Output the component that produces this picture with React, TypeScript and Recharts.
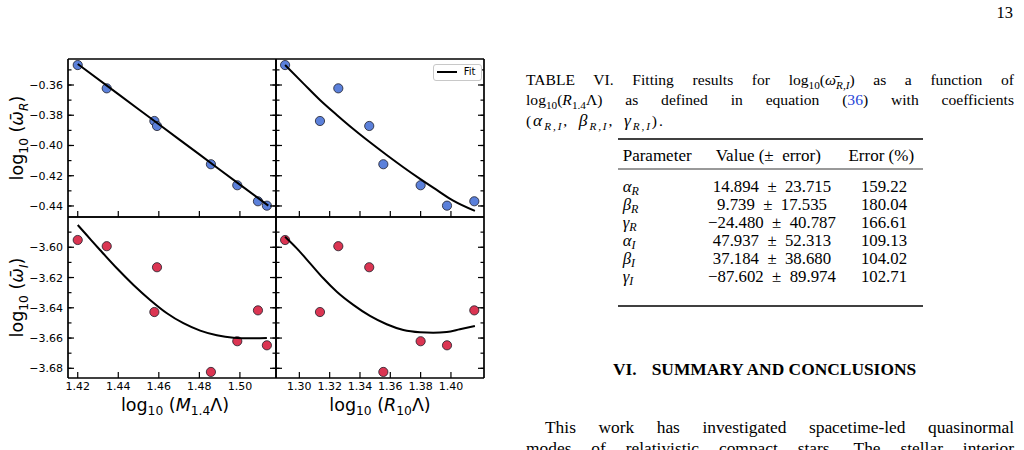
import React from "react";
import { Label, Legend, Scatter, ScatterChart, XAxis, YAxis } from "recharts";

// Eight stellar models: log10(M_1.4 Λ), log10(R_10 Λ) and the two parts of log10(ω̄)
const massLambda = [1.42, 1.4343, 1.4578, 1.4591, 1.4857, 1.4987, 1.5089, 1.5133];
const radiusLambda = [1.2906, 1.3257, 1.3136, 1.3461, 1.3554, 1.38, 1.4154, 1.3974];
const omegaReal = [-0.3468, -0.3622, -0.3838, -0.3871, -0.4124, -0.4263, -0.4369, -0.4398];
const omegaImag = [-3.5952, -3.5993, -3.6428, -3.6132, -3.6824, -3.6621, -3.6417, -3.6648];

// Quadratic fit curves, sampled along each curve
const fitMassRealX = [1.42, 1.44, 1.46, 1.48, 1.5, 1.514];
const fitMassRealY = [-0.3461, -0.366, -0.386, -0.4059, -0.4259, -0.4398];
const fitRadiusRealX = [1.2906, 1.3026, 1.3136, 1.3247, 1.3356, 1.3466, 1.3576, 1.3686, 1.3796, 1.3906, 1.4015, 1.4158];
const fitRadiusRealY = [-0.3468, -0.3589, -0.3699, -0.3798, -0.3891, -0.3979, -0.4063, -0.4144, -0.4221, -0.4294, -0.4365, -0.4433];
const fitMassImagX = [1.42, 1.4244, 1.431, 1.4393, 1.4475, 1.4557, 1.464, 1.4721, 1.4804, 1.4886, 1.4968, 1.5051, 1.5133];
const fitMassImagY = [-3.5853, -3.5919, -3.6018, -3.6139, -3.6249, -3.6348, -3.6436, -3.6502, -3.6551, -3.6582, -3.6598, -3.6602, -3.66];
const fitRadiusImagX = [1.2906, 1.2983, 1.3071, 1.3158, 1.3247, 1.3356, 1.3466, 1.3576, 1.3686, 1.3796, 1.3883, 1.3972, 1.4059, 1.4158];
const fitRadiusImagY = [-3.593, -3.6007, -3.6106, -3.6205, -3.6294, -3.6381, -3.6454, -3.6509, -3.6547, -3.6562, -3.6565, -3.656, -3.6542, -3.652];

// Axis ticks
const massTicks = [1.42, 1.44, 1.46, 1.48, 1.5];
const massMinorTicks = [1.42, 1.43, 1.44, 1.45, 1.46, 1.47, 1.48, 1.49, 1.5, 1.51];
const radiusTicks = [1.3, 1.32, 1.34, 1.36, 1.38, 1.4];
const radiusMinorTicks = [1.29, 1.3, 1.31, 1.32, 1.33, 1.34, 1.35, 1.36, 1.37, 1.38, 1.39, 1.4, 1.41];
const realTicks = [-0.44, -0.42, -0.4, -0.38, -0.36];
const realMinorTicks = [-0.44, -0.43, -0.42, -0.41, -0.4, -0.39, -0.38, -0.37, -0.36, -0.35];
const imagTicks = [-3.68, -3.66, -3.64, -3.62, -3.6];
const imagMinorTicks = [-3.68, -3.67, -3.66, -3.65, -3.64, -3.63, -3.62, -3.61, -3.6, -3.59];

// Table VI
const paramSymbols = ["α", "β", "γ", "α", "β", "γ"];
const paramParts = ["R", "R", "R", "I", "I", "I"];
const paramValues = [14.894, 9.739, -24.48, 47.937, 37.184, -87.602];
const paramErrors = [23.715, 17.535, 40.787, 52.313, 38.68, 89.974];
const errorPercents = [159.22, 180.04, 166.61, 109.13, 104.02, 102.71];

const BLUE = "#5b80da";
const RED = "#db3552";
const sans = "DejaVu Sans";
const serif = '"Liberation Serif", "Times New Roman", serif';

// axes take no room of their own; the plot box comes from the chart margins
const THIN = 0.001;
const spine = { stroke: "#000", strokeWidth: 1.7 };

const toXY = (xs: number[], ys: number[]) => xs.map((x, i) => ({ x, y: ys[i] }));
const fmt = (v: number) => v.toFixed(2).replace("-", "\u2212");
const signed = (v: number) => v.toFixed(3).replace("-", "\u2212");

type Side = "bottom" | "top" | "left" | "right";

// inward tick mark drawn at the axis line, with an optional value label outside
function Tick({ x, y, payload, side, len, label }: any) {
  const s = side as Side;
  const dx = s === "left" ? len : s === "right" ? -len : 0;
  const dy = s === "bottom" ? -len : s === "top" ? len : 0;
  return (
    <g>
      <line x1={x} y1={y} x2={x + dx} y2={y + dy} stroke="#000" strokeWidth={1.2} />
      {label && s === "bottom" && (
        <text x={x} y={y + 12.5} textAnchor="middle" fontFamily={sans} fontSize={11} fill="#000">{fmt(payload.value)}</text>
      )}
      {label && s === "left" && (
        <text x={x - 5} y={y + 4} textAnchor="end" fontFamily={sans} fontSize={11} fill="#000">{fmt(payload.value)}</text>
      )}
    </g>
  );
}

function YTitle({ viewBox, part }: any) {
  const cy = viewBox.y + viewBox.height / 2;
  return (
    <text transform={`translate(23,${cy}) rotate(-90)`} textAnchor="middle" fontFamily={sans} fontSize={17.5} fill="#000">
      <tspan>log</tspan>
      <tspan dy={4.5} fontSize={12.3}>10</tspan>
      <tspan dy={-4.5}> (</tspan>
      <tspan fontStyle="italic">ω̄</tspan>
      <tspan dy={4.5} fontSize={12.3} fontStyle="italic">{part}</tspan>
      <tspan dy={-4.5}>)</tspan>
    </text>
  );
}

function XTitle({ viewBox, symbol, sub, dx = 0 }: any) {
  const cx = viewBox.x + viewBox.width / 2 + dx;
  return (
    <text x={cx} y={viewBox.y + 33} textAnchor="middle" fontFamily={sans} fontSize={17.5} fill="#000">
      <tspan>log</tspan>
      <tspan dy={4.5} fontSize={12.3}>10</tspan>
      <tspan dy={-4.5}> (</tspan>
      <tspan fontStyle="italic">{symbol}</tspan>
      <tspan dy={4.5} fontSize={12.3}>{sub}</tspan>
      <tspan dy={-4.5}>Λ)</tspan>
    </text>
  );
}

function FitLegend({ payload }: any) {
  const entries = (payload ?? []).filter((e: any) => e.value === "Fit");
  return (
    <div
      style={{
        display: "flex",
        alignItems: "center",
        boxSizing: "border-box",
        width: 49,
        height: 17,
        border: "1px solid #c8c8c8",
        borderRadius: 3,
        background: "#fff",
        paddingLeft: 3,
        fontFamily: sans,
        fontSize: 10,
        lineHeight: "10px",
        color: "#000",
      }}
    >
      {entries.map((entry: any) => (
        <React.Fragment key={entry.value}>
          <svg width={20} height={4} style={{ display: "block" }}>
            <line x1={0} x2={20} y1={2} y2={2} stroke="#000" strokeWidth={2} />
          </svg>
          <span style={{ marginLeft: 7 }}>{entry.value}</span>
        </React.Fragment>
      ))}
    </div>
  );
}

type PanelProps = {
  left: number;
  top: number;
  width: number;
  height: number;
  margin: { top: number; right: number; bottom: number; left: number };
  points: { x: number; y: number }[];
  fit: { x: number; y: number }[];
  color: string;
  xDomain: [number, number];
  xTicks: number[];
  xMinor: number[];
  yDomain: [number, number];
  yTicks: number[];
  yMinor: number[];
  xLabels: boolean;
  yLabels: boolean;
  xTitle?: React.ReactElement;
  yTitle?: React.ReactElement;
  legend?: boolean;
};

function Panel(p: PanelProps) {
  const axisBase = { type: "number" as const, interval: 0, allowDataOverflow: true, tickSize: 0, tickMargin: 0, tickLine: false };
  return (
    <div style={{ position: "absolute", left: p.left, top: p.top }}>
      <ScatterChart width={p.width} height={p.height} margin={p.margin}>
        <XAxis xAxisId="x" dataKey="x" {...axisBase} domain={p.xDomain} ticks={p.xTicks} height={THIN} axisLine={spine}
          tick={<Tick side="bottom" len={6} label={p.xLabels} />}>
          {p.xTitle && <Label content={p.xTitle} />}
        </XAxis>
        <XAxis xAxisId="xm" {...axisBase} domain={p.xDomain} ticks={p.xMinor} height={THIN} axisLine={false}
          tick={<Tick side="bottom" len={3.5} />} />
        <XAxis xAxisId="xt" orientation="top" {...axisBase} domain={p.xDomain} ticks={p.xTicks} height={THIN} axisLine={spine}
          tick={<Tick side="top" len={6} />} />
        <XAxis xAxisId="xtm" orientation="top" {...axisBase} domain={p.xDomain} ticks={p.xMinor} height={THIN} axisLine={false}
          tick={<Tick side="top" len={3.5} />} />
        <YAxis yAxisId="y" dataKey="y" {...axisBase} domain={p.yDomain} ticks={p.yTicks} width={THIN} axisLine={spine}
          tick={<Tick side="left" len={6} label={p.yLabels} />}>
          {p.yTitle && <Label content={p.yTitle} />}
        </YAxis>
        <YAxis yAxisId="ym" {...axisBase} domain={p.yDomain} ticks={p.yMinor} width={THIN} axisLine={false}
          tick={<Tick side="left" len={3.5} />} />
        <YAxis yAxisId="yr" orientation="right" {...axisBase} domain={p.yDomain} ticks={p.yTicks} width={THIN} axisLine={spine}
          tick={<Tick side="right" len={6} />} />
        <YAxis yAxisId="yrm" orientation="right" {...axisBase} domain={p.yDomain} ticks={p.yMinor} width={THIN} axisLine={false}
          tick={<Tick side="right" len={3.5} />} />
        <Scatter
          xAxisId="x"
          yAxisId="y"
          data={p.points}
          legendType="none"
          isAnimationActive={false}
          shape={(s: any) => <circle cx={s.cx} cy={s.cy} r={4.6} fill={p.color} stroke="#1e1e2a" strokeWidth={0.8} />}
        />
        <Scatter
          name="Fit"
          xAxisId="x"
          yAxisId="y"
          data={p.fit}
          line={{ stroke: "#000", strokeWidth: 2 }}
          lineJointType="monotoneX"
          legendType="line"
          fill="#000"
          isAnimationActive={false}
          shape={() => <g />}
        />
        {p.legend && (
          <Legend layout="horizontal" verticalAlign="middle" align="center"
            wrapperStyle={{ left: 186.7, top: 34.5, width: "auto", height: "auto" }} content={<FitLegend />} />
        )}
      </ScatterChart>
    </div>
  );
}

function Sub({ children, italic }: { children: React.ReactNode; italic?: boolean }) {
  return (
    <span style={{ fontSize: "0.72em", position: "relative", top: "0.28em", lineHeight: 0, fontStyle: italic ? "italic" : "normal" }}>
      {children}
    </span>
  );
}

const captionLine: React.CSSProperties = {
  position: "absolute",
  left: 526,
  width: 488,
  fontFamily: serif,
  fontSize: 15.6,
  lineHeight: "20px",
  textAlign: "justify",
  textAlignLast: "justify",
  color: "#000",
};

const bodyLine: React.CSSProperties = {
  position: "absolute",
  fontFamily: serif,
  fontSize: 17.4,
  lineHeight: "20.9px",
  textAlign: "justify",
  textAlignLast: "justify",
  color: "#000",
};

export default function App() {
  const massDomain: [number, number] = [1.4152, 1.5178];
  const radiusDomain: [number, number] = [1.2846, 1.4218];
  const realDomain: [number, number] = [-0.4473, -0.3428];
  const imagDomain: [number, number] = [-3.6864, -3.58];

  return (
    <div style={{ position: "absolute", left: 0, top: 0, width: 1024, height: 450, overflow: "hidden", background: "#fff" }}>
      <Panel
        left={0} top={29} width={306} height={218}
        margin={{ top: 30, right: 30, bottom: 30, left: 68 }}
        points={toXY(massLambda, omegaReal)}
        fit={toXY(fitMassRealX, fitMassRealY)}
        color={BLUE}
        xDomain={massDomain} xTicks={massTicks} xMinor={massMinorTicks}
        yDomain={realDomain} yTicks={realTicks} yMinor={realMinorTicks}
        xLabels={false} yLabels
        yTitle={<YTitle part="R" />}
      />
      <Panel
        left={246} top={29} width={268} height={218}
        margin={{ top: 30, right: 30, bottom: 30, left: 30 }}
        points={toXY(radiusLambda, omegaReal)}
        fit={toXY(fitRadiusRealX, fitRadiusRealY)}
        color={BLUE}
        xDomain={radiusDomain} xTicks={radiusTicks} xMinor={radiusMinorTicks}
        yDomain={realDomain} yTicks={realTicks} yMinor={realMinorTicks}
        xLabels={false} yLabels={false}
        legend
      />
      <Panel
        left={0} top={187} width={306} height={241}
        margin={{ top: 30, right: 30, bottom: 50, left: 68 }}
        points={toXY(massLambda, omegaImag)}
        fit={toXY(fitMassImagX, fitMassImagY)}
        color={RED}
        xDomain={massDomain} xTicks={massTicks} xMinor={massMinorTicks}
        yDomain={imagDomain} yTicks={imagTicks} yMinor={imagMinorTicks}
        xLabels yLabels
        yTitle={<YTitle part="I" />}
        xTitle={<XTitle symbol="M" sub="1.4" dx={3} />}
      />
      <Panel
        left={246} top={187} width={268} height={241}
        margin={{ top: 30, right: 30, bottom: 50, left: 30 }}
        points={toXY(radiusLambda, omegaImag)}
        fit={toXY(fitRadiusImagX, fitRadiusImagY)}
        color={RED}
        xDomain={radiusDomain} xTicks={radiusTicks} xMinor={radiusMinorTicks}
        yDomain={imagDomain} yTicks={imagTicks} yMinor={imagMinorTicks}
        xLabels yLabels={false}
        xTitle={<XTitle symbol="R" sub="10" />}
      />

      <div style={{ ...captionLine, top: 70.4 }}>
        TABLE VI. Fitting results for log<Sub>10</Sub>(<i>ω̄</i><Sub italic>R,I</Sub>) as a function of
      </div>
      <div style={{ ...captionLine, top: 90.4 }}>
        log<Sub>10</Sub>(<i>R</i><Sub>1.4</Sub>Λ) as defined in equation (<span style={{ color: "#2443d6" }}>36</span>) with coefficients
      </div>
      <div style={{ ...captionLine, top: 110.4, textAlign: "left", textAlignLast: "left", letterSpacing: 1.9 }}>
        (<i style={{ fontSize: "1.12em" }}>α</i><Sub italic>R,I</Sub>,&ensp;<i style={{ fontSize: "1.12em" }}>β</i><Sub italic>R,I</Sub>,&ensp;
        <i style={{ fontSize: "1.12em" }}>γ</i><Sub italic>R,I</Sub>).
      </div>

      <svg style={{ position: "absolute", left: 0, top: 0 }} width={1024} height={450} fontFamily={serif} fill="#000">
        <text x={1013} y={18} textAnchor="end" fontSize={16.5}>13</text>

        <line x1={618} x2={923} y1={139} y2={139} stroke="#000" strokeWidth={1.4} />
        <text x={622.7} y={161} fontSize={17}>Parameter</text>
        <text x={768.3} y={161} fontSize={17} textAnchor="middle">{"Value (±\u2002error)"}</text>
        <text x={881.3} y={161} fontSize={17} textAnchor="middle">Error (%)</text>
        <line x1={618} x2={923} y1={169} y2={169} stroke="#000" strokeWidth={0.8} />
        {paramValues.map((v, i) => {
          const y = 192.3 + i * 17.9;
          return (
            <g key={i} fontSize={16.8}>
              <text x={622.7} y={y}>
                <tspan fontStyle="italic">{paramSymbols[i]}</tspan>
                <tspan fontStyle="italic" fontSize={12} dy={3}>{paramParts[i]}</tspan>
              </text>
              <text x={772} y={y} textAnchor="middle">{`${signed(v)}\u2002±\u2002${paramErrors[i].toFixed(3)}`}</text>
              <text x={884} y={y} textAnchor="middle">{errorPercents[i].toFixed(2)}</text>
            </g>
          );
        })}
        <line x1={618} x2={923} y1={306} y2={306} stroke="#000" strokeWidth={1.4} />

        <text x={613} y={375} fontSize={17.4} fontWeight="bold">VI.</text>
        <text x={651.7} y={375} fontSize={17.4} fontWeight="bold">SUMMARY AND CONCLUSIONS</text>
      </svg>

      <div style={{ ...bodyLine, left: 545, width: 469, top: 417 }}>
        This work has investigated spacetime-led quasinormal
      </div>
      <div style={{ ...bodyLine, left: 526, width: 488, top: 437.7 }}>
        modes of relativistic compact stars. The stellar interior
      </div>
    </div>
  );
}
